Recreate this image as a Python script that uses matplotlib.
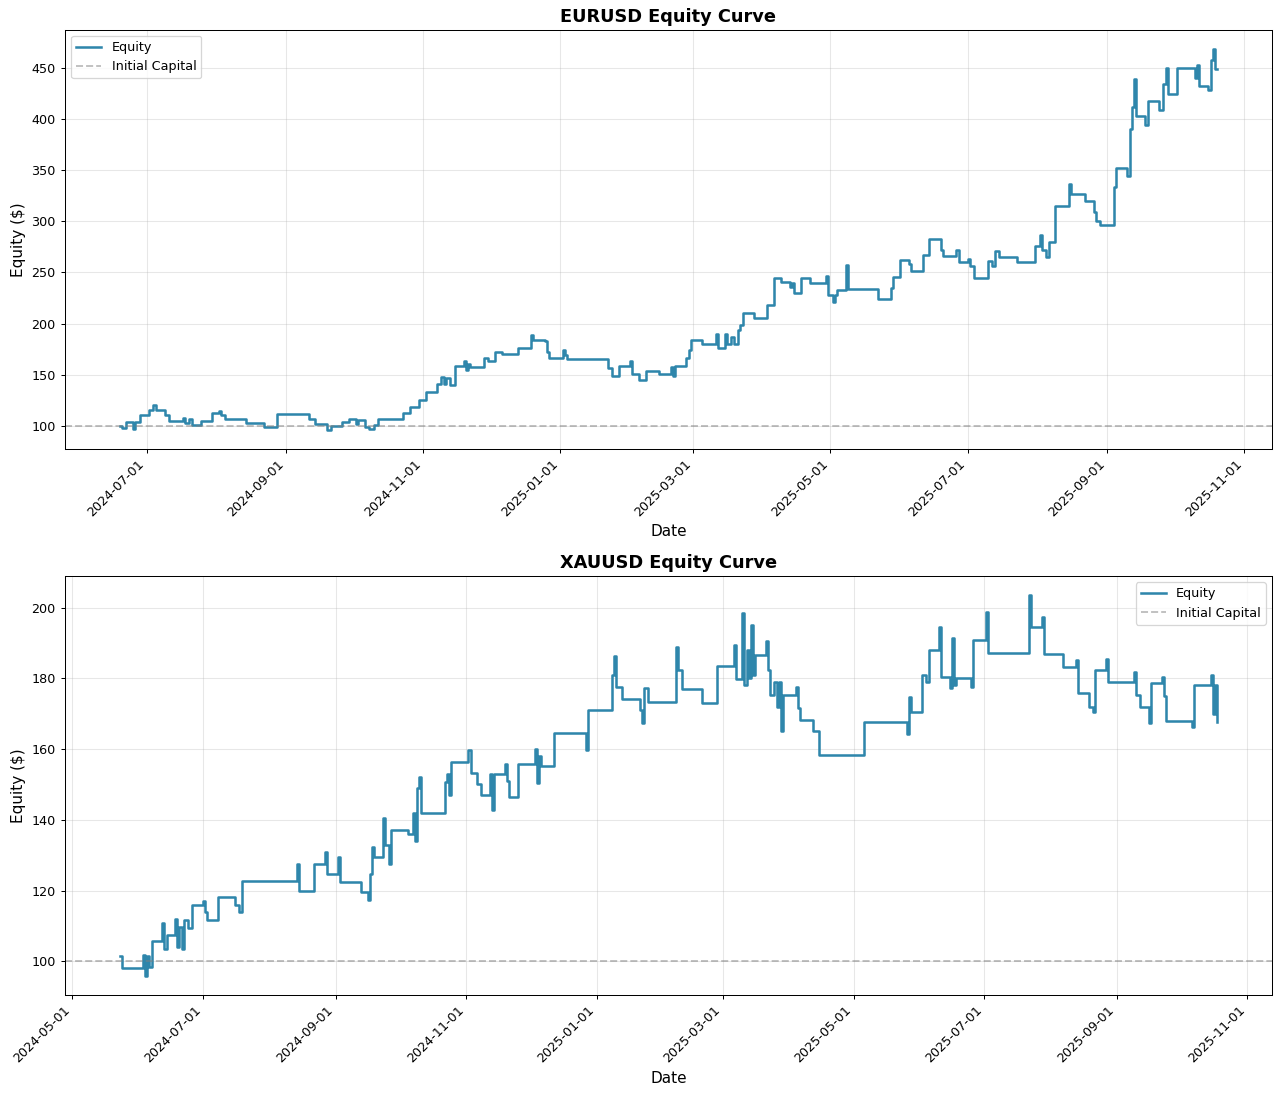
import pandas as pd
import matplotlib
matplotlib.use('Agg')
import matplotlib.pyplot as plt
import matplotlib.dates as mdates

initial_capital = 100

# EURUSD equity readings (date, equity)
eurusd_dates = [
    '2024-06-19', '2024-06-20', '2024-06-22', '2024-06-25', '2024-06-26', '2024-06-28',
    '2024-07-02', '2024-07-04', '2024-07-05', '2024-07-09', '2024-07-11', '2024-07-17',
    '2024-07-18', '2024-07-20', '2024-07-21', '2024-07-25', '2024-07-30', '2024-08-02',
    '2024-08-03', '2024-08-05', '2024-08-14', '2024-08-22', '2024-08-28', '2024-09-11',
    '2024-09-14', '2024-09-19', '2024-09-21', '2024-09-26', '2024-09-29', '2024-10-02',
    '2024-10-03', '2024-10-06', '2024-10-08', '2024-10-10', '2024-10-12', '2024-10-23',
    '2024-10-26', '2024-10-30', '2024-11-02', '2024-11-07', '2024-11-09', '2024-11-10',
    '2024-11-11', '2024-11-13', '2024-11-15', '2024-11-19', '2024-11-20', '2024-11-21',
    '2024-11-22', '2024-11-28', '2024-11-30', '2024-12-03', '2024-12-06', '2024-12-13',
    '2024-12-19', '2024-12-20', '2024-12-25', '2024-12-26', '2024-12-27', '2025-01-02',
    '2025-01-03', '2025-01-04', '2025-01-22', '2025-01-24', '2025-01-27', '2025-02-01',
    '2025-02-02', '2025-02-05', '2025-02-08', '2025-02-14', '2025-02-19', '2025-02-20',
    '2025-02-21', '2025-02-26', '2025-02-27', '2025-02-28', '2025-03-05', '2025-03-11',
    '2025-03-12', '2025-03-15', '2025-03-16', '2025-03-18', '2025-03-19', '2025-03-21',
    '2025-03-22', '2025-03-23', '2025-03-28', '2025-04-03', '2025-04-06', '2025-04-09',
    '2025-04-13', '2025-04-14', '2025-04-15', '2025-04-18', '2025-04-22', '2025-04-29',
    '2025-04-30', '2025-05-02', '2025-05-03', '2025-05-04', '2025-05-08', '2025-05-09',
    '2025-05-22', '2025-05-28', '2025-05-29', '2025-06-01', '2025-06-05', '2025-06-06',
    '2025-06-11', '2025-06-14', '2025-06-19', '2025-06-20', '2025-06-26', '2025-06-27',
    '2025-07-01', '2025-07-02', '2025-07-04', '2025-07-10', '2025-07-12', '2025-07-13',
    '2025-07-15', '2025-07-23', '2025-07-31', '2025-08-02', '2025-08-03', '2025-08-05',
    '2025-08-06', '2025-08-09', '2025-08-15', '2025-08-16', '2025-08-22', '2025-08-26',
    '2025-08-27', '2025-08-29', '2025-09-04', '2025-09-05', '2025-09-10', '2025-09-11',
    '2025-09-12', '2025-09-13', '2025-09-14', '2025-09-18', '2025-09-19', '2025-09-24',
    '2025-09-26', '2025-09-27', '2025-09-28', '2025-10-02', '2025-10-10', '2025-10-11',
    '2025-10-12', '2025-10-16', '2025-10-17', '2025-10-18', '2025-10-19', '2025-10-20',
]
eurusd_equity = [
    100, 98, 104, 97, 104, 110,
    115, 120, 115, 110, 105, 108,
    103, 107, 101, 105, 112, 114,
    110, 107, 103, 99, 111, 107,
    102, 96, 100, 104, 107, 102,
    106, 99, 97, 101, 107, 112,
    118, 125, 133, 141, 148, 141,
    147, 140, 158, 163, 155, 160,
    157, 166, 163, 172, 170, 176,
    189, 184, 183, 172, 166, 174,
    169, 165, 156, 149, 158, 163,
    151, 145, 154, 151, 157, 149,
    158, 166, 174, 184, 180, 190,
    176, 190, 180, 187, 180, 194,
    199, 210, 205, 218, 245, 241,
    236, 240, 230, 245, 240, 247,
    228, 221, 228, 233, 257, 234,
    224, 235, 246, 262, 258, 251,
    267, 283, 272, 266, 272, 260,
    263, 256, 245, 261, 256, 271,
    265, 260, 276, 287, 272, 265,
    280, 315, 337, 327, 320, 309,
    300, 296, 334, 352, 344, 390,
    412, 439, 403, 394, 418, 409,
    434, 450, 425, 450, 440, 453,
    432, 429, 458, 469, 449, 449,
]

# XAUUSD equity readings (date, equity)
xauusd_dates = [
    '2024-05-23', '2024-05-24', '2024-06-03', '2024-06-04', '2024-06-05', '2024-06-06',
    '2024-06-07', '2024-06-12', '2024-06-13', '2024-06-14', '2024-06-18', '2024-06-19',
    '2024-06-20', '2024-06-21', '2024-06-22', '2024-06-24', '2024-06-26', '2024-07-01',
    '2024-07-02', '2024-07-03', '2024-07-08', '2024-07-16', '2024-07-18', '2024-07-19',
    '2024-08-14', '2024-08-15', '2024-08-22', '2024-08-27', '2024-08-28', '2024-09-02',
    '2024-09-03', '2024-09-13', '2024-09-16', '2024-09-17', '2024-09-18', '2024-09-19',
    '2024-09-23', '2024-09-24', '2024-09-26', '2024-09-27', '2024-10-05', '2024-10-07',
    '2024-10-08', '2024-10-09', '2024-10-10', '2024-10-11', '2024-10-22', '2024-10-23',
    '2024-10-24', '2024-10-25', '2024-11-02', '2024-11-03', '2024-11-06', '2024-11-08',
    '2024-11-12', '2024-11-13', '2024-11-14', '2024-11-19', '2024-11-20', '2024-11-21',
    '2024-11-25', '2024-12-03', '2024-12-04', '2024-12-05', '2024-12-06', '2024-12-12',
    '2024-12-27', '2024-12-28', '2025-01-08', '2025-01-09', '2025-01-10', '2025-01-13',
    '2025-01-21', '2025-01-22', '2025-01-23', '2025-01-25', '2025-02-07', '2025-02-08',
    '2025-02-10', '2025-02-19', '2025-02-26', '2025-03-06', '2025-03-07', '2025-03-10',
    '2025-03-11', '2025-03-12', '2025-03-13', '2025-03-14', '2025-03-15', '2025-03-16',
    '2025-03-21', '2025-03-22', '2025-03-23', '2025-03-25', '2025-03-26', '2025-03-27',
    '2025-03-28', '2025-03-29', '2025-04-04', '2025-04-05', '2025-04-06', '2025-04-12',
    '2025-04-15', '2025-05-06', '2025-05-26', '2025-05-27', '2025-05-28', '2025-06-02',
    '2025-06-04', '2025-06-05', '2025-06-10', '2025-06-11', '2025-06-15', '2025-06-16',
    '2025-06-17', '2025-06-18', '2025-06-25', '2025-06-26', '2025-07-02', '2025-07-03',
    '2025-07-22', '2025-07-23', '2025-07-28', '2025-07-29', '2025-08-07', '2025-08-13',
    '2025-08-14', '2025-08-19', '2025-08-21', '2025-08-22', '2025-08-27', '2025-08-28',
    '2025-09-09', '2025-09-10', '2025-09-12', '2025-09-16', '2025-09-17', '2025-09-22',
    '2025-09-23', '2025-09-24', '2025-10-06', '2025-10-07', '2025-10-15', '2025-10-16',
    '2025-10-17', '2025-10-18',
]
xauusd_equity = [
    101.5, 98.0, 101.7, 95.8, 101.5, 98.4,
    105.7, 110.7, 103.6, 107.5, 112.0, 104.0,
    109.7, 103.6, 111.6, 109.4, 116.0, 117.0,
    114.0, 111.6, 118.2, 116.0, 114.0, 122.6,
    127.6, 120.0, 127.5, 131.0, 124.8, 129.5,
    122.5, 119.6, 117.3, 124.8, 132.4, 129.5,
    140.4, 133.0, 127.6, 137.0, 136.0, 141.8,
    134.0, 149.0, 152.0, 141.8, 150.8, 153.0,
    147.0, 156.4, 159.7, 153.3, 150.0, 147.0,
    153.0, 142.7, 152.9, 155.8, 151.0, 146.5,
    155.8, 160.0, 150.5, 158.0, 155.2, 164.6,
    159.7, 171.0, 181.0, 186.3, 177.6, 174.3,
    171.0, 167.3, 177.2, 173.4, 189.0, 182.4,
    177.0, 173.0, 183.5, 189.4, 179.7, 198.6,
    178.0, 188.0, 180.0, 195.0, 181.0, 186.6,
    190.6, 182.5, 175.3, 179.0, 172.0, 179.0,
    165.0, 175.3, 177.6, 171.5, 168.2, 165.0,
    158.3, 167.7, 164.4, 174.8, 170.6, 181.0,
    179.0, 188.0, 194.6, 180.5, 177.3, 191.3,
    178.0, 180.0, 177.6, 190.8, 198.9, 187.3,
    203.6, 194.6, 197.5, 186.9, 183.1, 185.2,
    175.8, 172.0, 170.5, 182.5, 185.6, 179.0,
    181.9, 175.3, 172.0, 167.3, 178.6, 180.4,
    175.0, 168.0, 166.3, 178.1, 181.0, 170.0,
    178.0, 167.7,
]

series = [
    ('EURUSD', eurusd_dates, eurusd_equity, 'upper left'),
    ('XAUUSD', xauusd_dates, xauusd_equity, 'upper right'),
]

dpi = 1280 / 14
fig, axes = plt.subplots(2, 1, figsize=(14, 1096 / dpi), dpi=dpi)
fig.subplots_adjust(left=0.0505, right=0.994, top=0.973, bottom=0.092, hspace=0.303)

for ax, (name, dates, equity, loc) in zip(axes, series):
    ax.plot(pd.to_datetime(dates), equity, color='#2E86AB', linewidth=2,
            drawstyle='steps-post', label='Equity')
    ax.axhline(y=initial_capital, color='gray', linestyle='--', alpha=0.5,
               label='Initial Capital')
    ax.set_title(f'{name} Equity Curve', fontsize=14, fontweight='bold')
    ax.set_xlabel('Date', fontsize=12)
    ax.set_ylabel('Equity ($)', fontsize=12)
    ax.legend(loc=loc)
    ax.grid(True, alpha=0.3)
    ax.xaxis.set_major_locator(mdates.MonthLocator(bymonth=[1, 3, 5, 7, 9, 11]))
    ax.xaxis.set_major_formatter(mdates.DateFormatter('%Y-%m-%d'))
    plt.setp(ax.get_xticklabels(), rotation=45, ha='right')

fig.savefig('out.png', dpi=dpi)
